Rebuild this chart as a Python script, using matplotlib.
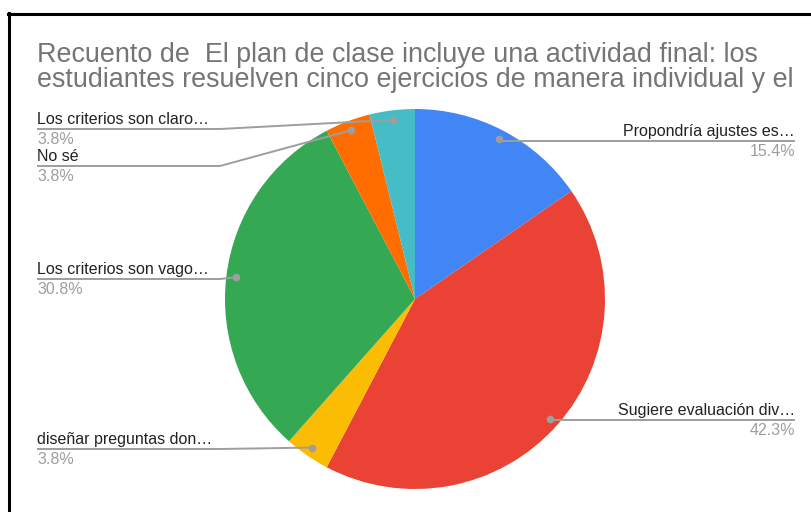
import numpy as np
import matplotlib
matplotlib.use('agg')
import matplotlib.pyplot as plt
from matplotlib.lines import Line2D

plt.rcParams['font.family'] = ['Liberation Sans', 'DejaVu Sans']

title_lines = ['Recuento de  El plan de clase incluye una actividad final: los',
               'estudiantes resuelven cinco ejercicios de manera individual y el']
labels = ['Propondría ajustes es…', 'Sugiere evaluación div…', 'diseñar preguntas don…',
          'Los criterios son vago…', 'No sé', 'Los criterios son claro…']
counts = [4, 11, 1, 8, 1, 1]
colors = ['#4285F4', '#EA4335', '#FBBC04', '#34A853', '#FF6D01', '#46BDC6']

W, H = 812, 512
fig = plt.figure(figsize=(W / 100, H / 100), dpi=100)
ax = fig.add_axes([0, 0, 1, 1])
ax.set_xlim(0, W)
ax.set_ylim(0, H)
ax.set_aspect('equal')
ax.axis('off')

# pie geometry in pixels (y measured from bottom)
cx, cy, R = 415, H - 299, 190
wedges, _ = ax.pie(counts, colors=colors, startangle=90, counterclock=False,
                   center=(cx, cy), radius=R, wedgeprops=dict(linewidth=0))
ax.set_xlim(0, W)
ax.set_ylim(0, H)

# label layout: side, y of leader line (px from top)
sides = ['right', 'right', 'left', 'left', 'left', 'left']
line_y = [141, 420, 449, 279, 166, 129]
left_x, right_x, elbow_left = 37, 795, 220

total = sum(counts)
for w, lab, n, side, ly in zip(wedges, labels, counts, sides, line_y):
    mid = np.deg2rad((w.theta1 + w.theta2) / 2)
    dx = cx + 0.95 * R * np.cos(mid)
    dy = cy + 0.95 * R * np.sin(mid)
    y = H - ly
    if side == 'left':
        xs = [left_x, min(elbow_left, dx), dx]
        tx, ha = left_x, 'left'
    else:
        xs = [right_x, dx, dx]
        tx, ha = right_x, 'right'
    ax.plot(xs, [y, y, dy], color='#9e9e9e', lw=1.4, solid_capstyle='butt', zorder=3)
    ax.plot(dx, dy, 'o', color='#9e9e9e', ms=4.5, zorder=4)
    ax.text(tx, y + 5, lab, ha=ha, va='baseline', fontsize=11.5, color='#222222')
    ax.text(tx, y - 15, f'{100 * n / total:.1f}%', ha=ha, va='baseline',
            fontsize=11.5, color='#9e9e9e')

for i, t in enumerate(title_lines):
    ax.text(37, H - 62 - 25 * i, t, ha='left', va='baseline', fontsize=19.4,
            color='#757575')

# black frame of the screenshot
fig.add_artist(Line2D([9.5 / W, 9.5 / W], [0, 1 - 13 / H], color='black', lw=2.2,
                      transform=fig.transFigure))
fig.add_artist(Line2D([8 / W, 1], [1 - 14 / H, 1 - 14 / H], color='black', lw=2.2,
                      transform=fig.transFigure))

fig.savefig('out.png', dpi=100, facecolor='white')
